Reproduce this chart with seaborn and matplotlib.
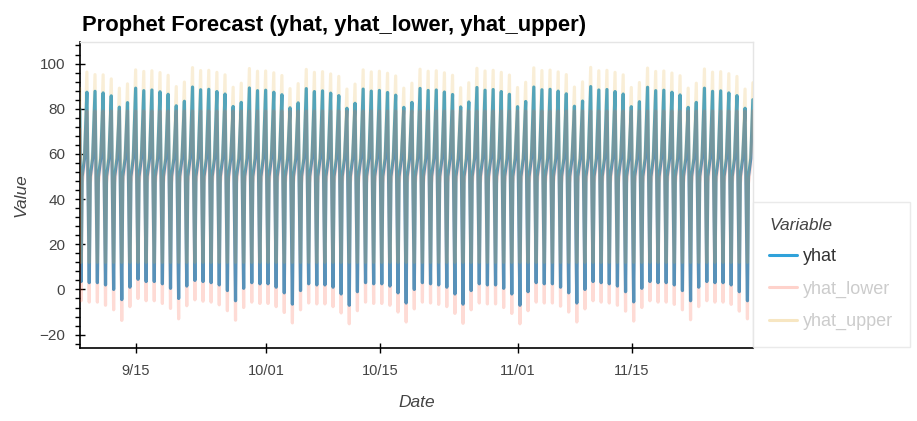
import numpy as np
import pandas as pd
import matplotlib
matplotlib.use("Agg")
import matplotlib.pyplot as plt
import matplotlib.dates as mdates
from matplotlib.ticker import MultipleLocator, FuncFormatter
from matplotlib.lines import Line2D
import seaborn as sns

# ---- data (one value per day, Sep 8 .. Nov 29) ----
days = pd.date_range("2024-09-08", "2024-11-29", freq="D")

# daily peak of yhat (around 23:00); last entry is where the series ends
yhat_peak = [
    87.3, 87.7, 87.0, 85.7, 80.7, 82.7, 89.1,
    88.0, 88.3, 87.5, 86.4, 81.3, 83.3, 89.6,
    88.4, 88.6, 87.6, 86.5, 81.0, 82.8, 89.2,
    88.0, 88.2, 87.3, 86.2, 80.4, 82.6, 88.9,
    87.6, 87.9, 86.9, 85.8, 80.2, 82.4, 88.7,
    87.8, 88.1, 87.2, 86.0, 80.6, 82.8, 89.0,
    88.1, 88.3, 87.4, 86.3, 80.8, 83.0, 89.4,
    88.2, 88.5, 87.6, 86.4, 80.9, 83.2, 89.6,
    88.4, 88.6, 87.8, 86.6, 81.1, 83.4, 89.8,
    88.3, 88.5, 87.6, 86.5, 80.9, 83.1, 89.5,
    88.0, 88.2, 87.3, 86.1, 80.6, 82.8, 89.1,
    87.7, 87.9, 87.0, 85.8, 80.2, 84.0,
]
# daily trough of yhat (early morning)
yhat_trough = [
    3.5, 3.0, 3.0, 2.0, 0.0, -4.5, 1.0,
    4.5, 3.5, 3.5, 2.5, 0.5, -4.0, 1.5,
    4.0, 3.5, 3.0, 2.0, -0.5, -5.0, 0.5,
    3.0, 2.5, 2.5, 1.0, -1.5, -6.5, -0.5,
    2.5, 2.0, 2.0, 1.0, -2.0, -7.0, -1.0,
    3.0, 2.5, 2.5, 1.5, -1.5, -6.0, 0.0,
    3.0, 2.5, 2.0, 1.0, -2.0, -6.5, -0.5,
    2.5, 2.0, 2.0, 0.5, -2.0, -7.0, -1.0,
    3.0, 2.5, 2.5, 1.0, -1.5, -6.0, 0.0,
    3.5, 3.0, 2.5, 1.5, -1.0, -5.5, 0.5,
    3.5, 3.0, 3.0, 2.0, -0.5, -5.0, 1.0,
    3.5, 3.0, 3.0, 2.0, -1.0, -5.0,
]
upper_peak = [
    96.2, 95.1, 95.0, 93.2, 89.1, 91.0, 97.2,
    96.5, 96.8, 96.0, 94.8, 89.8, 91.8, 98.2,
    96.9, 97.0, 96.1, 95.0, 89.5, 91.3, 97.8,
    96.6, 96.7, 95.9, 94.7, 88.9, 91.1, 97.4,
    96.1, 96.4, 95.4, 94.3, 88.7, 90.9, 97.2,
    96.3, 96.6, 95.7, 94.5, 89.1, 91.3, 97.5,
    96.6, 96.8, 95.9, 94.8, 89.3, 91.5, 97.9,
    96.7, 97.0, 96.1, 94.9, 89.4, 91.7, 98.1,
    96.9, 97.1, 96.3, 95.1, 89.6, 91.9, 98.3,
    96.8, 97.0, 96.1, 95.0, 89.4, 91.6, 98.0,
    96.5, 96.7, 95.8, 94.6, 89.1, 91.3, 97.6,
    96.2, 96.4, 95.5, 94.3, 88.7, 91.5,
]
lower_trough = [
    -5.0, -5.6, -5.6, -7.0, -9.0, -13.7, -7.6,
    -4.0, -5.0, -5.0, -6.2, -8.4, -13.0, -7.2,
    -4.6, -5.2, -5.6, -6.8, -9.4, -13.6, -8.0,
    -5.6, -6.2, -6.2, -7.6, -10.2, -14.8, -9.0,
    -6.0, -6.4, -6.4, -7.6, -10.4, -15.2, -9.4,
    -5.6, -6.2, -6.2, -7.0, -10.0, -14.4, -8.6,
    -5.6, -6.0, -6.6, -7.6, -10.6, -15.0, -9.0,
    -6.0, -6.4, -6.4, -8.0, -10.6, -15.2, -9.4,
    -5.6, -6.0, -6.0, -7.4, -10.0, -14.4, -8.6,
    -5.0, -5.6, -6.0, -7.0, -9.6, -14.0, -8.0,
    -5.0, -5.6, -5.6, -6.6, -9.0, -13.4, -7.6,
    -5.0, -5.6, -5.6, -6.6, -9.6, -13.0,
]
# levels of the slow rise in the middle of the day, and hidden turning points
yhat_mid = [50, 58]
upper_mid = [53, 61]
lower_mid = [47, 55]
upper_trough_level = 12
lower_peak_level = 79
# value where the series begins (Sep 8, 02:00), falling after a peak
start_value = {"yhat": 80, "yhat_lower": 71, "yhat_upper": 89}

hours = [6, 9, 16, 23]   # trough, slow-rise start, slow-rise end, peak
end_hour = 22

palette = {"yhat": "#30a2da", "yhat_lower": "#fc4f30", "yhat_upper": "#e5ae38"}


def build(name, trough, mid, peak):
    t = [days[0] + pd.Timedelta(hours=2)]
    v = [start_value[name]]
    for i, d in enumerate(days):
        lo = trough[i] if isinstance(trough, list) else trough
        hi = peak[i] if isinstance(peak, list) else peak
        vals = [lo, mid[0], mid[1], hi]
        for h, val in zip(hours, vals):
            if i == len(days) - 1 and h == hours[-1]:
                h = end_hour
            t.append(d + pd.Timedelta(hours=h))
            v.append(val)
    return pd.DataFrame({"Date": t, "Value": v, "Variable": name})


df = pd.concat([
    build("yhat", yhat_trough, yhat_mid, yhat_peak),
    build("yhat_lower", lower_trough, lower_mid, lower_peak_level),
    build("yhat_upper", upper_trough_level, upper_mid, upper_peak),
], ignore_index=True)

# ---- plot ----
sns.set_theme(style="ticks")
plt.rcParams["font.family"] = ["Liberation Sans", "DejaVu Sans"]

fig = plt.figure(figsize=(9.17, 4.21), dpi=100)
ax = fig.add_axes([0.087, 0.173, 0.734, 0.727])

sns.lineplot(data=df, x="Date", y="Value", hue="Variable", palette=palette,
             estimator=None, linewidth=2.3, ax=ax, legend=False)

for line, name in zip(ax.lines, ["yhat", "yhat_lower", "yhat_upper"]):
    if name == "yhat":
        line.set_zorder(2)
    else:
        line.set_alpha(0.2)
        line.set_zorder(3)

ax.set_xlim(df["Date"].min(), df["Date"].max())
ax.set_ylim(-26, 109.5)

ax.yaxis.set_major_locator(MultipleLocator(20))
ax.yaxis.set_minor_locator(MultipleLocator(4))
ax.xaxis.set_major_locator(mdates.DayLocator(bymonthday=[1, 15]))
ax.xaxis.set_major_formatter(
    FuncFormatter(lambda x, _: f"{mdates.num2date(x).month}/{mdates.num2date(x).day:02d}"))
ax.xaxis.set_minor_locator(mdates.DayLocator(bymonthday=[1, 15]))

ax.tick_params(axis="both", which="major", direction="inout", length=7, width=1,
               color="black", labelsize=10.5, labelcolor="#444444",
               bottom=True, left=True)
ax.tick_params(axis="y", which="major", pad=7, labelsize=11)
ax.tick_params(axis="x", which="major", pad=8)
ax.tick_params(axis="y", which="minor", direction="out", length=3.5, width=1,
               color="black", left=True)
ax.tick_params(axis="x", which="minor", bottom=False)

for side in ["left", "bottom"]:
    ax.spines[side].set_visible(True)
    ax.spines[side].set_color("black")
    ax.spines[side].set_linewidth(1.2)
for side in ["top", "right"]:
    ax.spines[side].set_visible(True)
    ax.spines[side].set_color("#e5e5e5")
    ax.spines[side].set_linewidth(1)

ax.set_xlabel("Date", fontsize=12.5, style="italic", color="#444444", labelpad=12)
ax.set_ylabel("Value", fontsize=12.5, style="italic", color="#444444", labelpad=8)
ax.set_title("Prophet Forecast (yhat, yhat_lower, yhat_upper)", loc="left",
             fontsize=15.8, fontweight="bold", color="black", pad=8, x=0.003)

handles = [
    Line2D([], [], color=palette["yhat"], lw=2.2),
    Line2D([], [], color=palette["yhat_lower"], lw=2.2, alpha=0.25),
    Line2D([], [], color=palette["yhat_upper"], lw=2.2, alpha=0.3),
]
leg = fig.legend(handles, ["yhat", "yhat_lower", "yhat_upper"], title="Variable",
                 loc="upper left", bbox_to_anchor=(0.821, 0.521),
                 frameon=True, fancybox=False, fontsize=13, title_fontsize=12.5,
                 handlelength=1.55, handletextpad=0.35, labelspacing=0.85,
                 borderpad=0.9, alignment="left", borderaxespad=0)
leg.get_frame().set_edgecolor("#e5e5e5")
leg.get_frame().set_linewidth(1)
leg.get_title().set_style("italic")
leg.get_title().set_color("#444444")
for txt, c in zip(leg.get_texts(), ["#333333", "#cccccc", "#cccccc"]):
    txt.set_color(c)

fig.savefig("out.png", dpi=100)
